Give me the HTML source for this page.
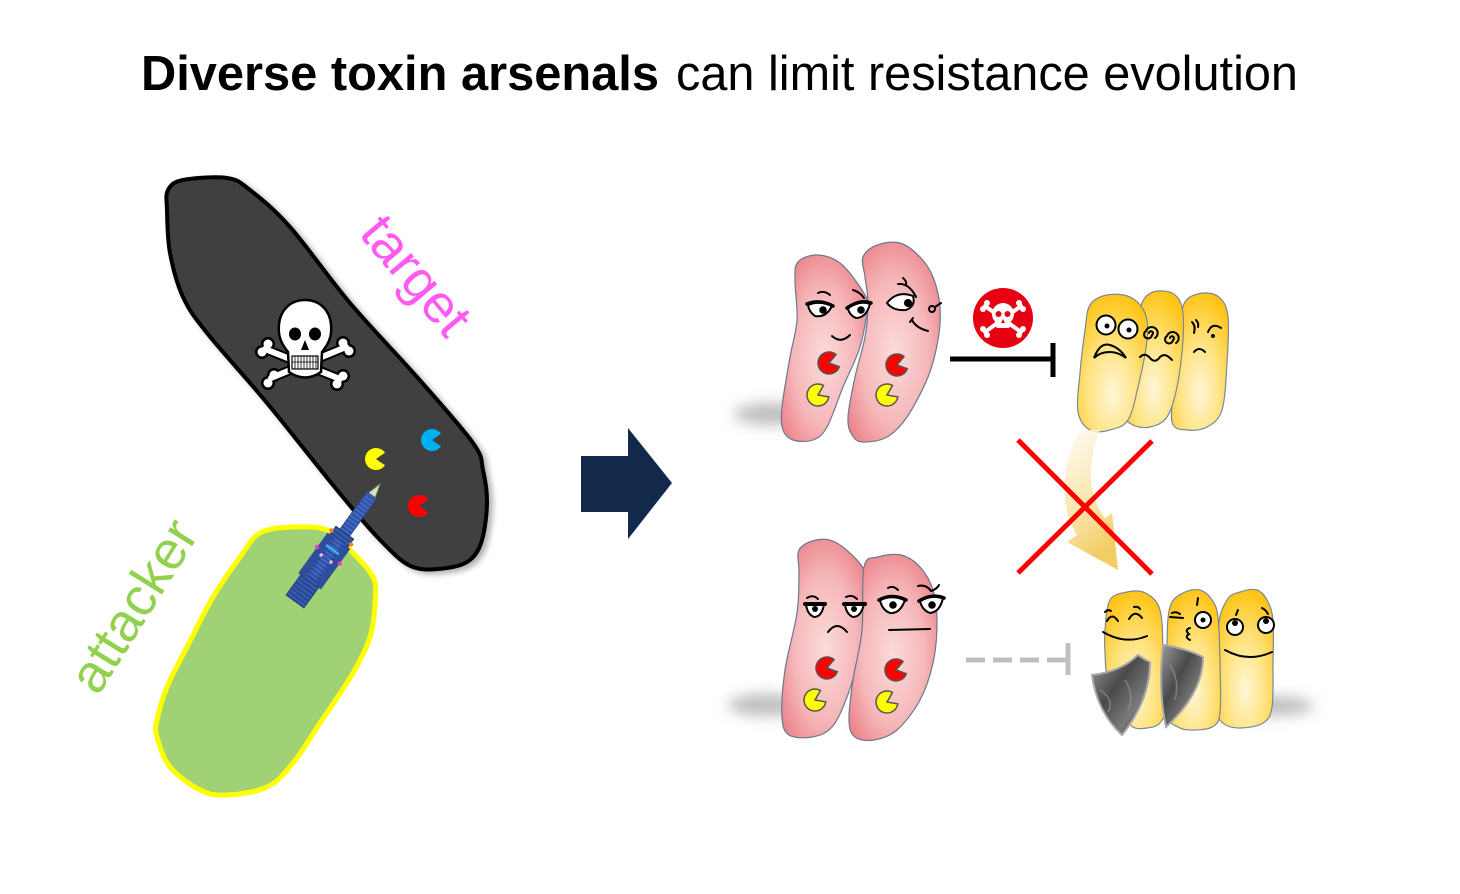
<!DOCTYPE html>
<html><head><meta charset="utf-8"><style>
html,body{margin:0;padding:0;background:#fff;width:1460px;height:894px;overflow:hidden}
svg{display:block}
</style></head><body>
<svg id="main" width="1460" height="894" viewBox="0 0 1460 894" xmlns="http://www.w3.org/2000/svg">
<defs>
  <radialGradient id="pink" cx="50%" cy="55%" r="65%">
    <stop offset="0" stop-color="#FCDADA"/>
    <stop offset="0.55" stop-color="#F6B8BA"/>
    <stop offset="1" stop-color="#EA7C82"/>
  </radialGradient>
  <radialGradient id="yel" cx="50%" cy="72%" r="75%">
    <stop offset="0" stop-color="#FFF6D8"/>
    <stop offset="0.5" stop-color="#FFE27C"/>
    <stop offset="1" stop-color="#FFC20E"/>
  </radialGradient>
  <linearGradient id="curv" x1="0" y1="0" x2="0.3" y2="1">
    <stop offset="0" stop-color="#FFFBF0"/>
    <stop offset="0.6" stop-color="#F8E2A0"/>
    <stop offset="1" stop-color="#F0C448"/>
  </linearGradient>
  <linearGradient id="shield" x1="0" y1="0" x2="1" y2="1">
    <stop offset="0" stop-color="#9A9A9A"/>
    <stop offset="0.4" stop-color="#4A4A4A"/>
    <stop offset="0.7" stop-color="#7A7A7A"/>
    <stop offset="1" stop-color="#2E2E2E"/>
  </linearGradient>
  <filter id="blur6" x="-60%" y="-100%" width="220%" height="300%"><feGaussianBlur stdDeviation="7"/></filter>
  <filter id="ds" x="-20%" y="-20%" width="140%" height="140%"><feDropShadow dx="4" dy="3" stdDeviation="3" flood-color="#000" flood-opacity="0.3"/></filter>
  <pattern id="stripe" width="4" height="40" patternUnits="userSpaceOnUse">
    <rect width="4" height="40" fill="#3F66C2"/>
    <rect width="1.2" height="40" fill="#2A4690"/>
  </pattern>
  <pattern id="stripe2" width="4" height="40" patternUnits="userSpaceOnUse">
    <rect width="4" height="40" fill="#3559AE"/>
    <rect width="1.2" height="40" fill="#233D80"/>
  </pattern>
</defs>

<!-- Title -->
<text y="90" font-family="'Liberation Sans', Arial, sans-serif" font-size="49" fill="#000"><tspan x="141" font-weight="bold" textLength="518" lengthAdjust="spacingAndGlyphs">Diverse toxin arsenals</tspan><tspan x="676" textLength="622" lengthAdjust="spacingAndGlyphs">can limit resistance evolution</tspan></text>

<!-- Attacker cell -->
<polygon class="sm" points="260,533 293,527 327,530 350,550 373,577 375,603 370,637 353,673 320,723 293,763 267,787 227,795 200,790 170,767 157,737 157,720 167,687 187,647 213,597 240,557" fill="#A0D175" stroke="#FFFF00" stroke-width="5" stroke-linejoin="round"/>

<!-- Target cell -->
<polygon class="sm" points="168,190 183,180 227,178 250,190 290,227 350,303 417,377 473,443 483,470 487,503 482,540 470,560 447,568 413,567 383,543 337,490 267,403 207,333 183,297 170,253 167,210" fill="#404040" stroke="#000" stroke-width="4" stroke-linejoin="round" filter="url(#ds)"/>

<!-- Skull & crossbones -->
<g stroke-linecap="round">
  <g fill="#000" stroke="#000">
    <line x1="265" y1="349" x2="340" y2="379" stroke-width="10"/>
    <line x1="346" y1="347" x2="271" y2="378" stroke-width="10"/>
    <circle cx="262" cy="352" r="6.5"/><circle cx="268" cy="344" r="6.5"/>
    <circle cx="343" cy="376" r="6.5"/><circle cx="337" cy="384" r="6.5"/>
    <circle cx="343" cy="343" r="6.5"/><circle cx="349" cy="351" r="6.5"/>
    <circle cx="268" cy="383" r="6.5"/><circle cx="274" cy="375" r="6.5"/>
  </g>
  <g fill="#fff" stroke="#fff">
    <line x1="265" y1="349" x2="340" y2="379" stroke-width="6"/>
    <line x1="346" y1="347" x2="271" y2="378" stroke-width="6"/>
    <circle cx="262" cy="352" r="4.5" stroke="none"/><circle cx="268" cy="344" r="4.5" stroke="none"/>
    <circle cx="343" cy="376" r="4.5" stroke="none"/><circle cx="337" cy="384" r="4.5" stroke="none"/>
    <circle cx="343" cy="343" r="4.5" stroke="none"/><circle cx="349" cy="351" r="4.5" stroke="none"/>
    <circle cx="268" cy="383" r="4.5" stroke="none"/><circle cx="274" cy="375" r="4.5" stroke="none"/>
  </g>
</g>
<path d="M279,333 C277,311 290,300 305,300 C320,300 333,311 331,333 C330,342 325,348 322,352 L321,372 Q305,383 289,372 L288,352 C285,348 280,342 279,333 Z" fill="#fff" stroke="#000" stroke-width="2.5"/>
<ellipse cx="295" cy="334" rx="6" ry="6.5" fill="#000"/>
<ellipse cx="315" cy="334" rx="6" ry="6.5" fill="#000"/>
<path d="M305,340 L301,350 L309,350 Z" fill="#000"/>
<rect x="292" y="356" width="26" height="13" fill="#fff" stroke="#000" stroke-width="1.2"/>
<path d="M295,356v13M298,356v13M301,356v13M304,356v13M307,356v13M310,356v13M313,356v13M316,356v13M292,362h26" stroke="#000" stroke-width="0.8"/>

<!-- Pacmen in target -->
<path d="M376,459 L385,452.7 A11 11 0 1 0 385,465.3 Z" fill="#FFFF00"/>
<path d="M432,440 L441,433.7 A11 11 0 1 0 441,446.3 Z" fill="#00B0F0"/>
<path d="M419,506 L428,499.7 A11 11 0 1 0 428,512.3 Z" fill="#FF0000"/>

<!-- Syringe (T6SS) -->
<g transform="translate(380,484) rotate(125.9)">
  <polygon points="0,0 14,-4 14,4" fill="#D8E4B8" stroke="#8A9A70" stroke-width="0.8"/>
  <rect x="14" y="-6" width="62" height="12" fill="url(#stripe)" stroke="#27408A" stroke-width="0.8"/>
  <rect x="60" y="-11" width="85" height="22" fill="url(#stripe2)" stroke="#203A7A" stroke-width="0.8"/>
  <rect x="70" y="-14" width="50" height="7" fill="#2E4E9C"/>
  <rect x="70" y="7" width="50" height="7" fill="#2E4E9C"/>
  <rect x="70" y="-4" width="45" height="8" fill="url(#stripe)"/>
  <circle cx="66" cy="-12" r="2.2" fill="#F08030"/><circle cx="66" cy="12" r="2.2" fill="#F08030"/>
  <circle cx="88" cy="-14" r="2.2" fill="#FF33CC"/><circle cx="88" cy="14" r="2.2" fill="#FF33CC"/>
  <circle cx="92" cy="-6" r="1.8" fill="#FFB0E0"/><circle cx="92" cy="6" r="1.8" fill="#FFB0E0"/>
  <rect x="80" y="-8" width="2" height="16" fill="#40C0F0"/>
</g>

<!-- Labels -->
<text transform="translate(413,278) rotate(50)" x="0" y="14" text-anchor="middle" font-family="'Liberation Sans', Arial, sans-serif" font-size="54" fill="#FF5BF2">target</text>
<text transform="translate(137,608) rotate(-58)" x="0" y="14" text-anchor="middle" font-family="'Liberation Sans', Arial, sans-serif" font-size="54" fill="#92D050">attacker</text>

<!-- Big arrow -->
<polygon points="581,456 628,456 628,428 672,483 628,539 628,512 581,512" fill="#13294B"/>

<!-- ===== Top right panel ===== -->
<ellipse cx="772" cy="414" rx="38" ry="11" fill="#BDBDBD" filter="url(#blur6)"/>
<polygon class="sm" points="798,262 817,255 840,263 862,290 867,307 860,347 843,387 827,427 813,440 793,440 783,430 782,407 790,357 797,320 795,280" fill="url(#pink)" stroke="#6A7890" stroke-width="1.2" stroke-linejoin="round"/>
<polygon class="sm" points="863,257 877,245 900,243 920,257 933,277 940,307 938,340 928,377 907,417 887,437 863,442 852,435 848,417 855,377 865,337 868,303 865,277" fill="url(#pink)" stroke="#6A7890" stroke-width="1.2" stroke-linejoin="round"/>
<!-- faces top pink -->
<g fill="none" stroke="#000" stroke-width="2" stroke-linecap="round">
  <path d="M818,293 Q824,290 830,295"/>
  <path d="M853,290 Q860,292 864,298"/>
  <path d="M808,305 Q820,300 832,306 Q826,318 815,316 Q809,312 808,305 Z" fill="#fff"/>
  <path d="M848,308 Q860,300 870,304 Q866,318 856,318 Q849,315 848,308 Z" fill="#fff"/>
  <path d="M807,304 Q820,299 833,306" stroke-width="3.5"/>
  <path d="M847,308 Q860,299 871,303" stroke-width="3.5"/>
  <path d="M832,336 Q841,344 850,335"/>
  <path d="M887,303 Q897,290 913,296 Q916,306 906,310 Q893,311 887,303 Z" fill="#fff"/>
  <path d="M898,284 Q909,283 916,297"/>
  <path d="M903,278 Q907,281 906,285"/>
  <circle cx="932" cy="309" r="3"/>
  <path d="M935,307 L941,303"/>
  <path d="M912,320 Q916,328 928,331"/>
  <path d="M910,322 L913,318"/>
</g>
<circle cx="823" cy="310" r="3.8" fill="#000"/>
<circle cx="861" cy="310" r="3.8" fill="#000"/>
<circle cx="908" cy="303" r="4" fill="#000"/>
<!-- pacmen top pink -->
<g stroke="#555" stroke-width="1.5">
  <path d="M829,363 L838,356.7 A11 11 0 1 0 838,369.3 Z" fill="#FF0000" transform="rotate(-15 829 363)"/>
  <path d="M818,395 L827,388.7 A11 11 0 1 0 827,401.3 Z" fill="#FFFF00" transform="rotate(-25 818 395)"/>
  <path d="M897,365 L906,358.7 A11 11 0 1 0 906,371.3 Z" fill="#FF0000" transform="rotate(-15 897 365)"/>
  <path d="M887,395 L896,388.7 A11 11 0 1 0 896,401.3 Z" fill="#FFFF00" transform="rotate(-25 887 395)"/>
</g>

<!-- red skull icon -->
<circle cx="1003" cy="318" r="30" fill="#E60012"/>
<g fill="#fff" stroke="#fff" stroke-linecap="round">
  <line x1="985" y1="306" x2="1021" y2="332" stroke-width="4"/>
  <line x1="1021" y1="306" x2="985" y2="332" stroke-width="4"/>
  <circle cx="983" cy="309" r="3" stroke="none"/><circle cx="987" cy="303" r="3" stroke="none"/>
  <circle cx="1023" cy="309" r="3" stroke="none"/><circle cx="1019" cy="303" r="3" stroke="none"/>
  <circle cx="983" cy="329" r="3" stroke="none"/><circle cx="987" cy="335" r="3" stroke="none"/>
  <circle cx="1023" cy="329" r="3" stroke="none"/><circle cx="1019" cy="335" r="3" stroke="none"/>
  <circle cx="1003" cy="314" r="11" stroke="none"/>
  <rect x="996" y="318" width="14" height="10" rx="2" stroke="none"/>
</g>
<circle cx="998.5" cy="314" r="3" fill="#E60012"/>
<circle cx="1007.5" cy="314" r="3" fill="#E60012"/>
<path d="M1003,319 L1001,323 L1005,323 Z" fill="#E60012"/>

<!-- inhibition line -->
<line x1="950" y1="359" x2="1053" y2="359" stroke="#000" stroke-width="5"/>
<line x1="1053" y1="343" x2="1053" y2="377" stroke="#000" stroke-width="5"/>

<!-- top yellow cells -->
<polygon class="sm" points="1185,302 1203,293 1220,298 1228,317 1227,363 1222,410 1207,427 1187,430 1172,422 1175,380 1180,330" fill="url(#yel)" stroke="#7A8898" stroke-width="1.2" stroke-linejoin="round"/>
<polygon class="sm" points="1142,303 1153,292 1172,293 1182,307 1183,340 1177,387 1167,417 1150,427 1133,425 1125,413 1130,370 1138,330" fill="url(#yel)" stroke="#7A8898" stroke-width="1.2" stroke-linejoin="round"/>
<polygon class="sm" points="1085,330 1090,305 1107,295 1130,297 1145,313 1147,340 1138,387 1128,420 1110,430 1090,430 1078,412 1080,373" fill="url(#yel)" stroke="#7A8898" stroke-width="1.2" stroke-linejoin="round"/>
<g fill="none" stroke="#000" stroke-width="2" stroke-linecap="round">
  <circle cx="1106" cy="325" r="9.5" fill="#fff"/>
  <circle cx="1128" cy="329" r="9.5" fill="#fff"/>
  <path d="M1094,358 Q1100,342 1110,345 Q1120,348 1126,358 Q1118,352 1110,352 Q1100,352 1094,358 Z"/>
  <path d="M1149,333 m0,0 a2,2 0 1 1 3,2 a4,4 0 1 1 -6,-4 a6,6 0 1 1 9,7"/>
  <path d="M1170,338 m0,0 a2,2 0 1 1 3,2 a4,4 0 1 1 -6,-4 a6,6 0 1 1 9,7"/>
  <path d="M1140,357 Q1145,352 1150,358 Q1155,364 1160,357 Q1165,352 1172,360"/>
  <path d="M1192,322 Q1196,326 1194,333"/>
  <path d="M1196,320 Q1199,323 1198,327"/>
  <path d="M1208,332 Q1212,322 1221,328"/>
  <path d="M1194,352 Q1199,346 1205,352"/>
</g>
<circle cx="1107" cy="326" r="2.5" fill="#000"/>
<circle cx="1129" cy="330" r="2.5" fill="#000"/>
<circle cx="1213" cy="336" r="2" fill="#000"/>

<!-- curved yellow arrow -->
<path d="M1080,430 C1062,460 1058,505 1077,535 L1067,542 L1118,570 L1112,513 L1105,518 C1090,500 1085,465 1100,430 Z" fill="url(#curv)" opacity="0.85"/>

<!-- red X -->
<line x1="1018" y1="440" x2="1152" y2="574" stroke="#FF0000" stroke-width="5"/>
<line x1="1152" y1="441" x2="1018" y2="573" stroke="#FF0000" stroke-width="5"/>

<!-- ===== Bottom right panel ===== -->
<ellipse cx="766" cy="705" rx="38" ry="11" fill="#BDBDBD" filter="url(#blur6)"/>
<polygon class="sm" points="799,550 816,540 835,542 857,560 866,577 868,610 860,653 847,697 832,727 812,737 789,735 782,717 785,670 797,613 799,573" fill="url(#pink)" stroke="#6A7890" stroke-width="1.2" stroke-linejoin="round"/>
<polygon class="sm" points="864,567 878,557 901,555 920,567 933,590 937,623 933,663 920,700 897,730 874,740 855,737 849,720 853,680 862,630" fill="url(#pink)" stroke="#6A7890" stroke-width="1.2" stroke-linejoin="round"/>
<g fill="none" stroke="#000" stroke-width="2" stroke-linecap="round">
  <path d="M807,598 Q813,594 818,599"/>
  <path d="M846,597 Q852,594 857,599"/>
  <path d="M806,604 L824,604 Q822,617 814,617 Q807,614 806,604 Z" fill="#fff"/>
  <path d="M845,604 L864,604 Q861,617 853,617 Q846,614 845,604 Z" fill="#fff"/>
  <path d="M805,604 L825,604" stroke-width="4"/>
  <path d="M844,604 L865,604" stroke-width="4"/>
  <path d="M828,632 Q837,620 847,632"/>
  <path d="M888,588 Q893,585 898,590"/>
  <path d="M918,586 Q926,584 931,591 M931,591 Q937,589 939,585"/>
  <path d="M880,600 Q892,594 905,600 Q900,614 890,613 Q882,610 880,600 Z" fill="#fff"/>
  <path d="M920,601 Q932,594 943,598 Q940,612 930,613 Q922,610 920,601 Z" fill="#fff"/>
  <path d="M879,600 Q892,593 906,600" stroke-width="3.5"/>
  <path d="M919,601 Q932,593 944,598" stroke-width="3.5"/>
  <path d="M889,630 L930,629"/>
</g>
<circle cx="893" cy="605" r="3.8" fill="#000"/>
<circle cx="932" cy="605" r="3.8" fill="#000"/>
<circle cx="815" cy="609" r="3" fill="#000"/>
<circle cx="854" cy="609" r="3" fill="#000"/>
<g stroke="#555" stroke-width="1.5">
  <path d="M827,668 L836,661.7 A11 11 0 1 0 836,674.3 Z" fill="#FF0000" transform="rotate(-15 827 668)"/>
  <path d="M815,700 L824,693.7 A11 11 0 1 0 824,706.3 Z" fill="#FFFF00" transform="rotate(-25 815 700)"/>
  <path d="M896,670 L905,663.7 A11 11 0 1 0 905,676.3 Z" fill="#FF0000" transform="rotate(-15 896 670)"/>
  <path d="M887,702 L896,695.7 A11 11 0 1 0 896,708.3 Z" fill="#FFFF00" transform="rotate(-25 887 702)"/>
</g>

<!-- dashed gray inhibition -->
<g stroke="#BFBFBF" stroke-width="5">
  <line x1="966" y1="660" x2="985" y2="660"/>
  <line x1="993" y1="660" x2="1012" y2="660"/>
  <line x1="1020" y1="660" x2="1039" y2="660"/>
  <line x1="1047" y1="660" x2="1068" y2="660"/>
  <line x1="1068" y1="643" x2="1068" y2="675"/>
</g>

<!-- bottom yellow cells -->
<ellipse cx="1268" cy="706" rx="46" ry="10" fill="#BDBDBD" filter="url(#blur6)"/>
<polygon class="sm" points="1218,630 1227,600 1240,592 1257,590 1267,600 1273,620 1273,663 1272,707 1263,723 1240,728 1223,723 1218,707" fill="url(#yel)" stroke="#7A8898" stroke-width="1.2" stroke-linejoin="round"/>
<polygon class="sm" points="1167,647 1170,607 1183,593 1200,590 1212,600 1218,617 1220,663 1220,713 1212,727 1193,730 1178,727 1168,713" fill="url(#yel)" stroke="#7A8898" stroke-width="1.2" stroke-linejoin="round"/>
<polygon class="sm" points="1105,630 1110,600 1127,592 1143,592 1157,603 1162,623 1163,663 1165,707 1160,723 1147,728 1133,727 1123,713 1108,680 1105,653" fill="url(#yel)" stroke="#7A8898" stroke-width="1.2" stroke-linejoin="round"/>
<g fill="none" stroke="#000" stroke-width="2" stroke-linecap="round">
  <path d="M1107,621 Q1112,612 1118,621"/>
  <path d="M1105,612 Q1108,609 1111,611"/>
  <path d="M1129,619 Q1135,609 1142,618"/>
  <path d="M1134,607 Q1138,606 1140,609"/>
  <path d="M1103,632 Q1125,645 1147,636"/>
  <path d="M1170,617 L1183,618"/>
  <path d="M1172,613 Q1176,611 1180,614"/>
  <circle cx="1203" cy="620" r="8" fill="#fff"/>
  <path d="M1198,598 L1197,605"/>
  <path d="M1190,628 Q1184,630 1189,634 Q1184,637 1190,640"/>
  <circle cx="1235" cy="627" r="8" fill="#fff"/>
  <circle cx="1266" cy="625" r="8" fill="#fff"/>
  <path d="M1238,610 L1236,615"/>
  <path d="M1262,608 Q1266,610 1268,614"/>
  <path d="M1225,650 Q1248,663 1272,652"/>
</g>
<circle cx="1203" cy="620" r="2.5" fill="#000"/>
<circle cx="1235" cy="623" r="3" fill="#000"/>
<circle cx="1266" cy="621" r="3" fill="#000"/>
<!-- shields -->
<path d="M1163,645 Q1185,648 1203,657 Q1203,693 1166,727 Q1158,690 1163,645 Z" fill="url(#shield)" stroke="#A8A8A8" stroke-width="2"/>
<path d="M1092,675 Q1120,672 1138,655 Q1145,660 1150,662 Q1150,700 1122,735 Q1097,712 1092,675 Z" fill="url(#shield)" stroke="#A8A8A8" stroke-width="2"/>
<path d="M1100,690 Q1115,700 1108,712 M1125,680 Q1135,695 1128,710 M1170,665 Q1180,680 1175,700" stroke="#9A9A9A" stroke-width="1.5" fill="none" opacity="0.6"/>
</svg>
<script>
(function(){
  var polys=document.querySelectorAll('polygon.sm');
  for(var k=0;k<polys.length;k++){
    var p=polys[k];
    var nums=p.getAttribute('points').trim().split(/[\s,]+/).map(Number);
    var pts=[];for(var i=0;i<nums.length;i+=2)pts.push([nums[i],nums[i+1]]);
    var n=pts.length,d='M'+pts[0][0]+','+pts[0][1];
    for(var i=0;i<n;i++){
      var p0=pts[(i-1+n)%n],p1=pts[i],p2=pts[(i+1)%n],p3=pts[(i+2)%n];
      var c1x=p1[0]+(p2[0]-p0[0])/6,c1y=p1[1]+(p2[1]-p0[1])/6;
      var c2x=p2[0]-(p3[0]-p1[0])/6,c2y=p2[1]-(p3[1]-p1[1])/6;
      d+=' C'+c1x.toFixed(1)+','+c1y.toFixed(1)+' '+c2x.toFixed(1)+','+c2y.toFixed(1)+' '+p2[0]+','+p2[1];
    }
    d+=' Z';
    var path=document.createElementNS('http://www.w3.org/2000/svg','path');
    for(var a=0;a<p.attributes.length;a++){var at=p.attributes[a];if(at.name!=='points'&&at.name!=='class')path.setAttribute(at.name,at.value);}
    path.setAttribute('d',d);
    p.parentNode.replaceChild(path,p);
  }
})();
</script>
</body></html>
